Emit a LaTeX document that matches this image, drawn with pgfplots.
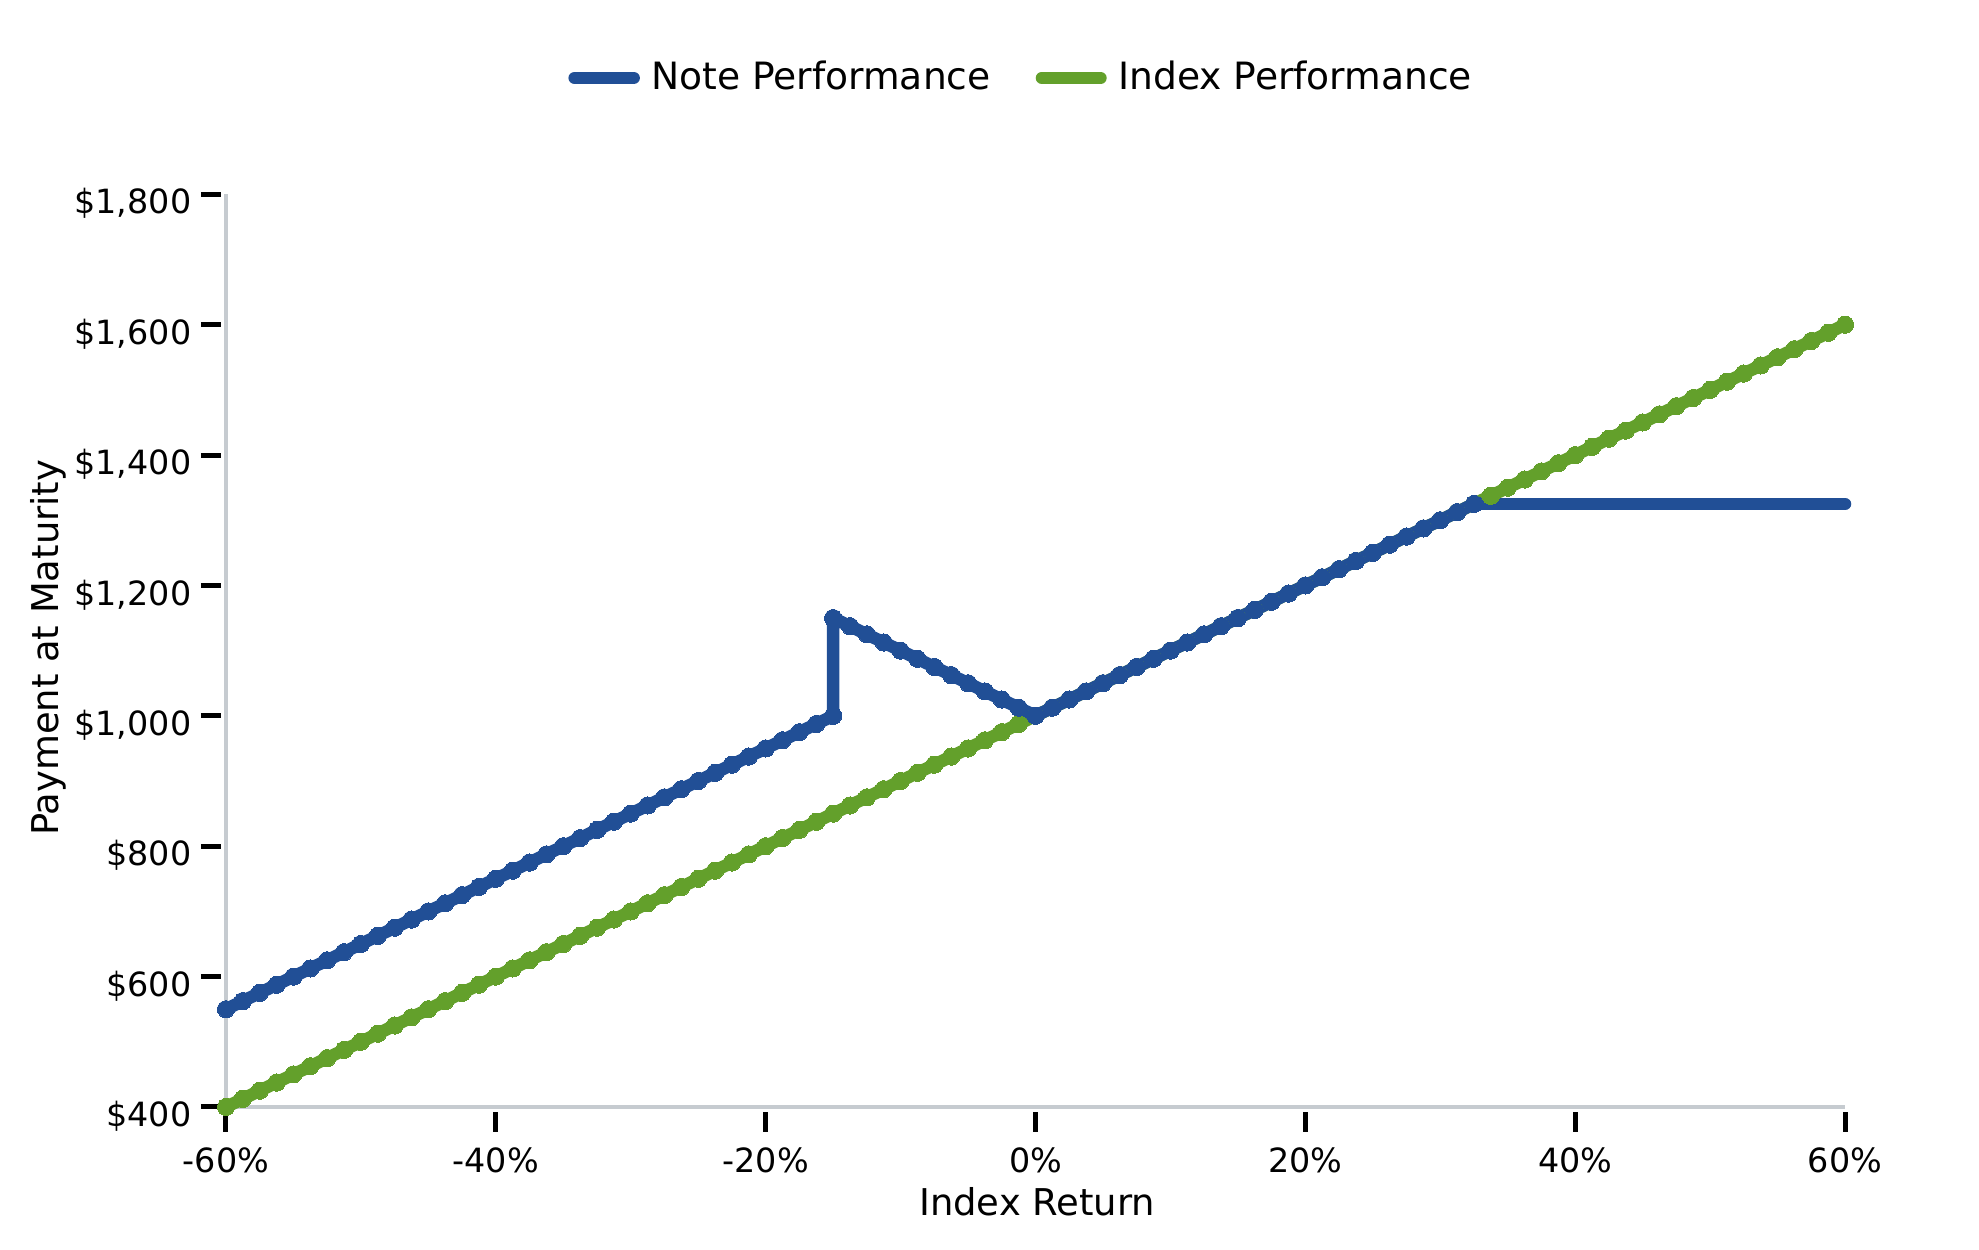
\documentclass[border=0pt]{standalone}
\usepackage{fontspec}
\setmainfont{DejaVu Sans}
\usepackage{pgfplots}
\usepackage{pgfplotstable}
\pgfplotsset{compat=1.18}
\definecolor{noteblue}{RGB}{33,79,150}
\definecolor{idxgreen}{RGB}{99,160,43}
\definecolor{spine}{RGB}{198,203,208}

\pgfplotstableread{
x y
-60 400
-58.75 412.5
-57.5 425
-56.25 437.5
-55 450
-53.75 462.5
-52.5 475
-51.25 487.5
-50 500
-48.75 512.5
-47.5 525
-46.25 537.5
-45 550
-43.75 562.5
-42.5 575
-41.25 587.5
-40 600
-38.75 612.5
-37.5 625
-36.25 637.5
-35 650
-33.75 662.5
-32.5 675
-31.25 687.5
-30 700
-28.75 712.5
-27.5 725
-26.25 737.5
-25 750
-23.75 762.5
-22.5 775
-21.25 787.5
-20 800
-18.75 812.5
-17.5 825
-16.25 837.5
-15 850
-13.75 862.5
-12.5 875
-11.25 887.5
-10 900
-8.75 912.5
-7.5 925
-6.25 937.5
-5 950
-3.75 962.5
-2.5 975
-1.25 987.5
0 1000
1.25 1012.5
2.5 1025
3.75 1037.5
5 1050
6.25 1062.5
7.5 1075
8.75 1087.5
10 1100
11.25 1112.5
12.5 1125
13.75 1137.5
15 1150
16.25 1162.5
17.5 1175
18.75 1187.5
20 1200
21.25 1212.5
22.5 1225
23.75 1237.5
25 1250
26.25 1262.5
27.5 1275
28.75 1287.5
30 1300
31.25 1312.5
32.5 1325
33.75 1337.5
35 1350
36.25 1362.5
37.5 1375
38.75 1387.5
40 1400
41.25 1412.5
42.5 1425
43.75 1437.5
45 1450
46.25 1462.5
47.5 1475
48.75 1487.5
50 1500
51.25 1512.5
52.5 1525
53.75 1537.5
55 1550
56.25 1562.5
57.5 1575
58.75 1587.5
60 1600
}\indextable

\pgfplotstableread{
x y
-60 550
-58.75 562.5
-57.5 575
-56.25 587.5
-55 600
-53.75 612.5
-52.5 625
-51.25 637.5
-50 650
-48.75 662.5
-47.5 675
-46.25 687.5
-45 700
-43.75 712.5
-42.5 725
-41.25 737.5
-40 750
-38.75 762.5
-37.5 775
-36.25 787.5
-35 800
-33.75 812.5
-32.5 825
-31.25 837.5
-30 850
-28.75 862.5
-27.5 875
-26.25 887.5
-25 900
-23.75 912.5
-22.5 925
-21.25 937.5
-20 950
-18.75 962.5
-17.5 975
-16.25 987.5
-15 1000
-15 1150
-13.75 1137.5
-12.5 1125
-11.25 1112.5
-10 1100
-8.75 1087.5
-7.5 1075
-6.25 1062.5
-5 1050
-3.75 1037.5
-2.5 1025
-1.25 1012.5
0 1000
1.25 1012.5
2.5 1025
3.75 1037.5
5 1050
6.25 1062.5
7.5 1075
8.75 1087.5
10 1100
11.25 1112.5
12.5 1125
13.75 1137.5
15 1150
16.25 1162.5
17.5 1175
18.75 1187.5
20 1200
21.25 1212.5
22.5 1225
23.75 1237.5
25 1250
26.25 1262.5
27.5 1275
28.75 1287.5
30 1300
31.25 1312.5
32.5 1325
}\notetable

\pgfplotstableread{
x y
32.5 1325
60 1325
}\captable

\begin{document}
\begin{tikzpicture}
\path[use as bounding box] (0,0) rectangle (19.79cm,12.5cm);
\begin{axis}[
  at={(2.26cm,1.43cm)}, anchor=south west,
  scale only axis, width=16.19cm, height=9.127cm,
  xmin=-60, xmax=60, ymin=400, ymax=1800,
  clip=false,
  axis x line*=bottom, axis y line*=left,
  axis line style={draw=spine, line width=0.043cm},
  xtick={-60,-40,-20,0,20,40,60},
  xticklabels={-60\%,-40\%,-20\%,0\%,20\%,40\%,60\%},
  ytick={400,600,800,1000,1200,1400,1600,1800},
  yticklabels={\$400,\$600,\$800,{\$1,000},{\$1,200},{\$1,400},{\$1,600},{\$1,800}},
  minor tick num=0,
  tick align=outside, major tick length=0.2cm,
  xtick style={black, line width=0.05cm, yshift=-0.05cm},
  ytick style={black, line width=0.05cm, xshift=-0.05cm},
  tick label style={font=\fontsize{9.5}{11}\selectfont, inner sep=0pt},
  xticklabel style={anchor=base, yshift=-0.455cm},
  yticklabel style={anchor=base east, xshift=-0.14cm, yshift=-0.197cm},
  xlabel={Index Return},
  xlabel style={at={(axis description cs:0.501,-0.1194)}, anchor=base, inner sep=0pt, font=\fontsize{10.5}{12}\selectfont},
  ylabel={Payment at Maturity},
  ylabel style={at={(axis description cs:-0.1036,0.503)}, anchor=base, inner sep=0pt, font=\fontsize{10.5}{12}\selectfont},
  legend style={at={(axis description cs:0.2115,1.1275)}, anchor=west, draw=none, fill=none,
    inner sep=0pt, outer sep=0pt, nodes={inner sep=0pt},
    font=\fontsize{10.7}{12}\selectfont,
    /tikz/every odd column/.append style={column sep=0.115cm},
    /tikz/every even column/.append style={column sep=0.45cm}},
  legend columns=2,
  legend cell align=left,
  legend image code/.code={\draw[#1, line cap=round] (0cm,0cm) -- (0.59cm,0cm);},
]
\addplot[idxgreen, line width=0.125cm, line join=round, mark=*, mark size=0.086cm,
  mark options={line width=0pt, fill=idxgreen}, forget plot] table {\indextable};
\addplot[noteblue, line width=0.125cm, line join=round, mark=*, mark size=0.086cm,
  mark options={line width=0pt, fill=noteblue}] table {\notetable};
\addlegendentry{Note Performance}
\addplot[noteblue, line width=0.125cm, line cap=round, forget plot] table {\captable};
\addlegendimage{idxgreen, line width=0.12cm}
\addlegendentry{Index Performance}
\end{axis}
\end{tikzpicture}
\end{document}
